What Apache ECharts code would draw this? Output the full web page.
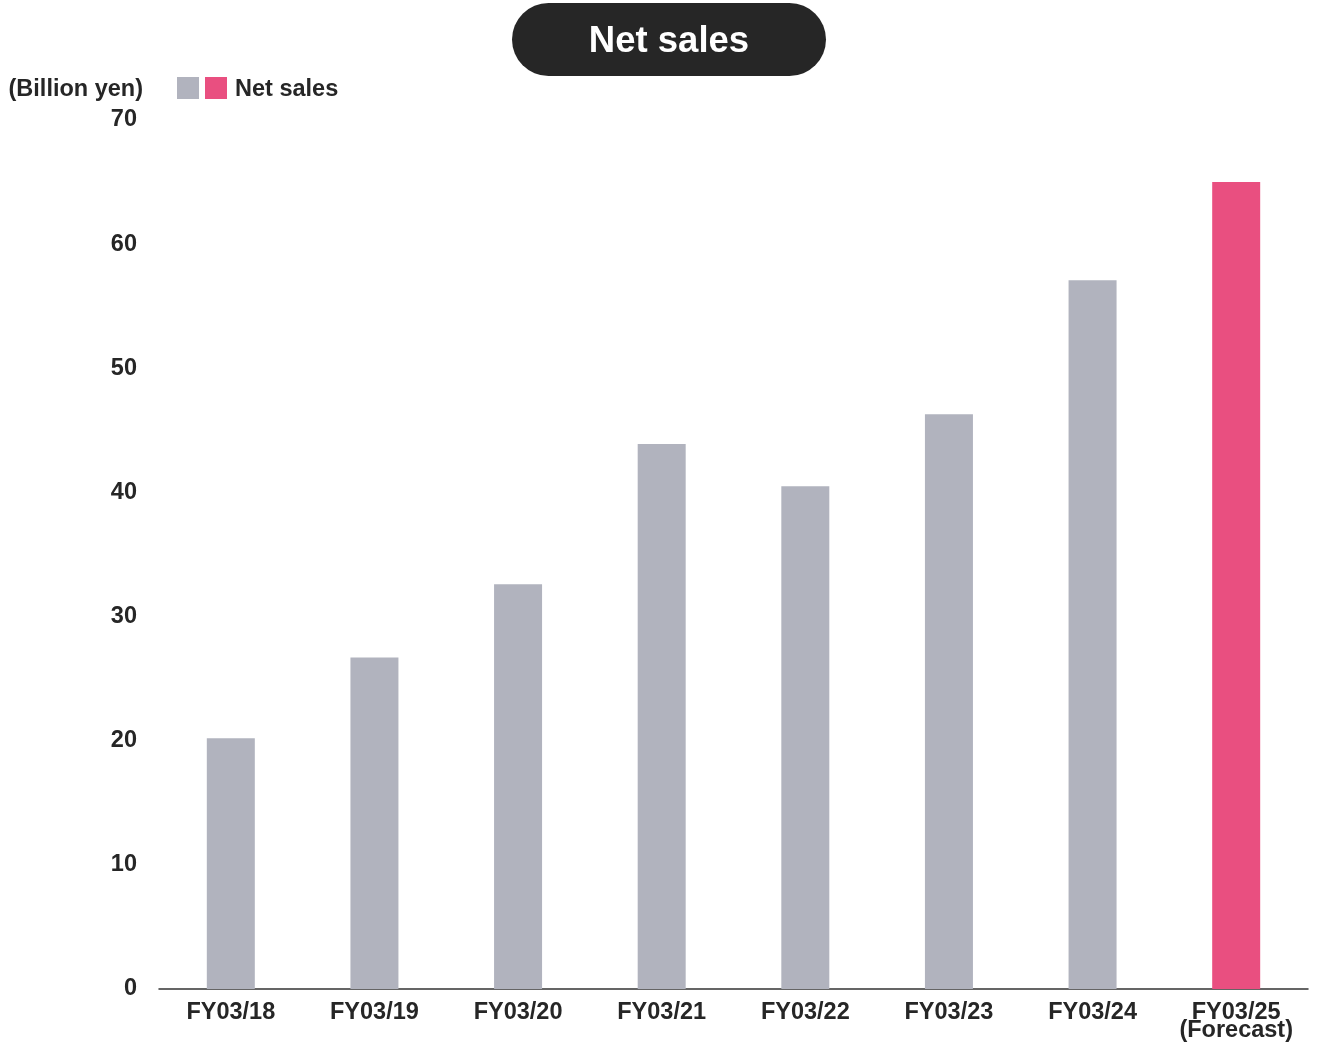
<!DOCTYPE html>
<html>
<head>
<meta charset="utf-8">
<title>Net sales</title>
<script src="https://cdn.jsdelivr.net/npm/echarts@6/dist/echarts.min.js"></script>
<style>
  html, body { margin: 0; padding: 0; background: #ffffff; }
  #chart { width: 1319px; height: 1044px; }
</style>
</head>
<body>
<div id="chart"></div>
<script>
// Fiscal years (March year-end)
const categories = ['FY03/18', 'FY03/19', 'FY03/20', 'FY03/21', 'FY03/22', 'FY03/23', 'FY03/24', 'FY03/25\n(Forecast)'];
// Net sales, billion yen
const netSales = [20.2, 26.7, 32.6, 43.9, 40.5, 46.3, 57.1, 65.0];
// The last year is a forecast and is highlighted
const isForecast = [false, false, false, false, false, false, false, true];
const yTicks = { min: 0, max: 70, interval: 10 };

const ACTUAL = '#b1b3be';
const FORECAST = '#e94f80';
const TEXT = '#262626';
const FONT = '"Liberation Sans", Arial, sans-serif';

const chart = echarts.init(document.getElementById('chart'), null, { renderer: 'canvas' });

chart.setOption({
  backgroundColor: '#ffffff',
  animation: false,
  grid: { left: 159, right: 11, top: 120, bottom: 55, containLabel: false },
  xAxis: {
    type: 'category',
    data: categories,
    axisLine: { show: true, lineStyle: { color: '#333333', width: 1.5 } },
    axisTick: { show: false },
    axisLabel: {
      color: TEXT, fontFamily: FONT, fontWeight: 'bold', fontSize: 23.5,
      lineHeight: 18, margin: 15, interval: 0
    }
  },
  yAxis: {
    type: 'value',
    min: yTicks.min, max: yTicks.max, interval: yTicks.interval,
    axisLine: { show: false },
    axisTick: { show: false },
    splitLine: { show: false },
    axisLabel: {
      color: TEXT, fontFamily: FONT, fontWeight: 'bold', fontSize: 23.5,
      margin: 22, padding: [3, 0, 0, 0]
    }
  },
  series: [{
    name: 'Net sales',
    type: 'bar',
    barWidth: 48,
    data: netSales.map((v, i) => ({
      value: v,
      itemStyle: { color: isForecast[i] ? FORECAST : ACTUAL }
    }))
  }],
  graphic: [
    // title pill
    {
      type: 'group', left: 512, top: 3,
      children: [
        { type: 'rect', shape: { x: 0, y: 0, width: 314, height: 73, r: 36.5 }, style: { fill: '#262626' } },
        { type: 'text', x: 157, y: 38.5, style: {
            text: 'Net sales', fill: '#ffffff', font: 'bold 36.5px ' + FONT,
            textAlign: 'center', textVerticalAlign: 'middle' } }
      ]
    },
    // unit label
    { type: 'text', x: 143, y: 89.5, style: {
        text: '(Billion yen)', fill: TEXT, font: 'bold 23.5px ' + FONT,
        textAlign: 'right', textVerticalAlign: 'middle' } },
    // legend: actual + forecast swatches
    { type: 'rect', shape: { x: 177, y: 77, width: 22, height: 22 }, style: { fill: ACTUAL } },
    { type: 'rect', shape: { x: 205, y: 77, width: 22, height: 22 }, style: { fill: FORECAST } },
    { type: 'text', x: 235, y: 89.5, style: {
        text: 'Net sales', fill: TEXT, font: 'bold 23.5px ' + FONT,
        textAlign: 'left', textVerticalAlign: 'middle' } }
  ]
});
</script>
</body>
</html>
